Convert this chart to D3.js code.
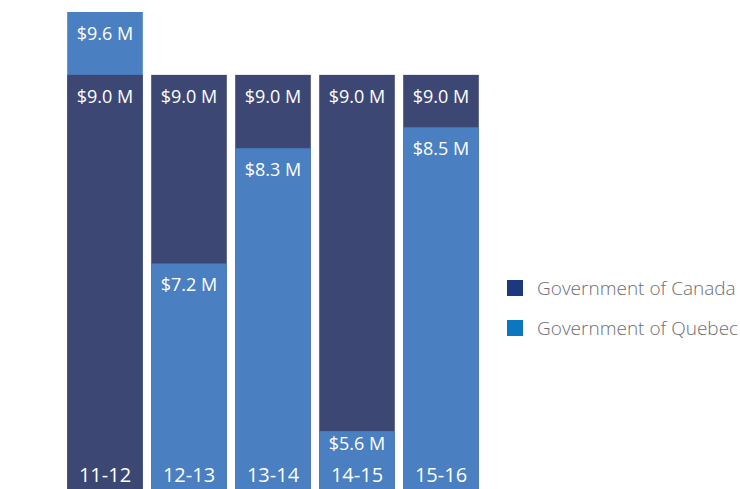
<!DOCTYPE html>
<html>
<head>
<meta charset="utf-8">
<script src="https://cdn.jsdelivr.net/npm/d3@7"></script>
<style>
  body { margin: 0; background: #fff; }
  text { font-family: "Open Sans", sans-serif; }
</style>
</head>
<body>
<div id="graphicContainer"></div>
<script>
var years = ["11-12", "12-13", "13-14", "14-15", "15-16"],
	canada = [9.0, 9.0, 9.0, 9.0, 9.0],
	quebec = [9.6, 7.2, 8.3, 5.6, 8.5],
	seriesNames = ["Government of Canada", "Government of Quebec"];

var width = 740,
	height = 489,
	barColors = ["#3c4873", "#4a7fc1"],
	legendColors = ["#1b3a7e", "#0b77c0"];

var svg = d3.select("#graphicContainer")
			.append("svg")
			.attr('width', width)
			.attr('height', height),
	g = svg.append("g");

var x = d3.scaleBand()
	.domain(years)
	.range([63, 483])
	.paddingInner(0.1)
	.paddingOuter(0.05);

// axis does not start at zero
var y = d3.scaleLinear()
	.domain([5, 9.6])
	.range([494, 12]);

// one entry per bar, larger drawn first so the smaller sits on top
var bars = [];
years.forEach(function(yr, i){
	var pair = [
		{year: yr, value: canada[i], s: 0},
		{year: yr, value: quebec[i], s: 1}
	];
	pair.sort(function(a, b){ return b.value - a.value });
	bars = bars.concat(pair);
});

var barGroup = g.selectAll('.bar')
	.data(bars)
	.enter().append('g')
	.attr('class', 'bar');

barGroup.append('rect')
	.attr('x', function(d){ return x(d.year) })
	.attr('width', x.bandwidth())
	.attr('y', function(d){ return y(d.value) })
	.attr('height', function(d){ return height - y(d.value) })
	.attr('fill', function(d){ return barColors[d.s] });

// keep labels clear of the year labels at the bottom
barGroup.append('text')
	.text(function(d){ return '$' + d.value.toFixed(1) + ' M' })
	.attr('x', function(d){ return x(d.year) + x.bandwidth()/2 })
	.attr('y', function(d){ return Math.min(y(d.value) + 28, 450) })
	.attr('text-anchor', 'middle')
	.attr('font-size', '18px')
	.attr('fill', '#fff');

g.selectAll('.yearLabel')
	.data(years)
	.enter().append('text')
	.attr('class', 'yearLabel')
	.text(function(d){ return d })
	.attr('x', function(d){ return x(d) + x.bandwidth()/2 })
	.attr('y', 482)
	.attr('text-anchor', 'middle')
	.attr('font-size', '20px')
	.attr('fill', '#fff');

var legend = g.selectAll('.legend')
	.data(seriesNames)
	.enter().append('g')
	.attr('class', 'legend')
	.attr('transform', function(d, i){ return "translate(507," + (280 + i*40) + ")" });

legend.append('rect')
	.attr('width', 16)
	.attr('height', 16)
	.attr('fill', function(d, i){ return legendColors[i] });

legend.append('text')
	.text(function(d){ return d })
	.attr('x', 30)
	.attr('y', 15)
	.attr('font-size', '19px')
	.attr('font-weight', 300)
	.attr('fill', '#6d6e71');
</script>
</body>
</html>
